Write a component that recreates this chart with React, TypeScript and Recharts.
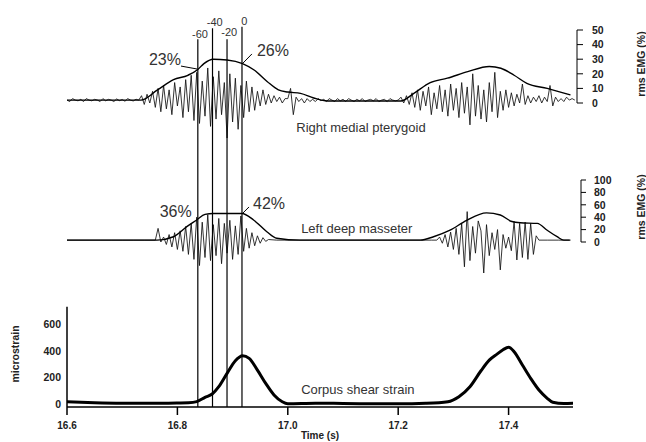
import { LineChart, Line, XAxis, YAxis, ReferenceLine, ReferenceDot } from "recharts";

// time axis shared by the three panels
const T_MIN = 16.6;
const TIME_TICKS = [16.6, 16.8, 17.0, 17.2, 17.4];

// timing markers (ms relative to strain peak)
const MARK_NAMES = ["-60", "-40", "-20", "0"];
const MARK_T = [16.837, 16.8636, 16.8899, 16.917];
const MARK_TOP = [43.6, 51.2, 43.6, 52.3];
const MARK_LABEL_Y = [47.3, 55.5, 48.4, 56.2];

// right medial pterygoid, rms envelope (% max)
const TOP_ENV_T = [16.6, 16.7, 16.734, 16.764, 16.793, 16.819, 16.837, 16.848, 16.865, 16.89, 16.918, 16.939, 16.963, 16.983, 17.0, 17.023, 17.047, 17.072, 17.15, 17.205, 17.229, 17.258, 17.289, 17.326, 17.365, 17.386, 17.41, 17.433, 17.47, 17.512];
const TOP_ENV_V = [2, 2, 2, 9, 16, 19, 23, 27, 30, 29.5, 27, 22.6, 14.6, 9, 7.5, 6.6, 3.4, 1.4, 1.4, 1.4, 6.8, 14, 17, 21.5, 25, 23.8, 19, 13.5, 10, 5.5];

// right medial pterygoid, raw emg (sampled every 5 ms)
const RAW_STEP = 0.005;
const TOP_QUIET_A = [2, 1, 3, 2, 1.5, 2.5, 1, 3, 2, 1.5, 2.5, 2, 1, 3, 1.5, 2.5, 2, 1, 2.8, 1.6, 2.4, 1.2, 3, 2, 1.4, 2.6];
const TOP_BURST_A = [2, 5, -1, 6, 0, 8, -3, 10, -6, 12, -4, 9, -8, 14, -2, 11, -10, 16, -6, 19, -12, 21, -14, 15, -9, 24, -16, 18, -11, 22, -8, 14, -24, 20, -13, 17, -18, 12, -10, 15, -6, 11, -5, 8, -2, 9, -1, 6, 0, 5, 1, 4, 0, 3];
const TOP_QUIET_B = [3, 10, -8, 4, 1, 3, 0, 3, 1, 2.5, 1, 3, 1.5, 2.5, 1, 3, 2, 1, 3, 1.5, 2.5, 1, 3, 2, 1, 2.5, 1.5, 3, 1, 2, 2.5, 1.5, 3, 1, 2, 2.5, 1, 3, 2, 1.5];
const TOP_BURST_B = [2, 4, 0, 5, -1, 7, -3, 9, -5, 8, -2, 11, -8, 7, -4, 12, -6, 9, -9, 13, -5, 10, -10, 14, -7, 11, -15, 20, -9, 12, -11, 9, -13, 14, -6, 21, -10, 8, -5, 9, -3, 7, -2, 6, 0, 13, -1, 5, 0, 4, 1, 5, 0, 4, 1, 12, -2, 4, 1, 3, 1, 4, 2, 3, 2];

// left deep masseter, rms envelope (% max)
const MID_ENV_T = [16.6, 16.763, 16.793, 16.817, 16.835, 16.85, 16.865, 16.89, 16.917, 16.938, 16.962, 16.98, 17.022, 17.24, 17.264, 17.294, 17.324, 17.36, 17.385, 17.406, 17.421, 17.452, 17.47, 17.488, 17.5, 17.512];
const MID_ENV_V = [3, 3, 8.5, 24.7, 35.5, 44.6, 46, 46, 46, 35.5, 16.6, 6, 3, 3, 8.5, 19, 35, 47, 43.5, 33, 31, 30, 19, 8.5, 3, 3];

// left deep masseter, raw emg
const QUIET_STEP = 0.02;
const MID_QUIET_A = [3, 3, 3, 3, 3, 3, 3, 3];
const MID_BURST_A = [3, 22, 0, 8, -4, 12, -8, 15, -12, 18, -15, 25, -20, 30, -28, 40, -38, 32, -25, 44, -30, 28, -22, 38, -35, 30, -18, 35, -28, 26, -20, 42, -15, 22, -10, 15, -6, 10, -2, 7, 1, 4];
const MID_QUIET_B = [3, 3, 3, 3, 3, 3, 3, 3, 3, 3, 3, 3, 3, 3, 3];
const MID_BURST_B = [3, 8, -2, 12, -8, 16, -12, 22, -20, 30, -40, 49, -30, 25, -18, 34, 18, -50, 28, -22, 15, -12, 20, -45, 12, -10, 8, -14, 33, -29, 30, -25, 32, -28, 30, -20, 10, 3];
const MID_QUIET_C = [3, 3, 3];

// corpus shear strain (microstrain)
const STRAIN_T = [16.6, 16.65, 16.7, 16.75, 16.8, 16.82, 16.835, 16.85, 16.863, 16.875, 16.89, 16.905, 16.918, 16.93, 16.945, 16.96, 16.975, 16.99, 17.0, 17.05, 17.1, 17.15, 17.2, 17.25, 17.29, 17.31, 17.33, 17.35, 17.365, 17.379, 17.39, 17.4, 17.41, 17.425, 17.44, 17.455, 17.47, 17.48, 17.5, 17.517];
const STRAIN_V = [17, 10, 6, 5, 8, 10, 18, 50, 75, 130, 230, 325, 363, 343, 255, 155, 68, 17, 2, 6, 4, 2, 1, 5, 17, 55, 130, 250, 330, 375, 408, 426, 393, 293, 193, 105, 43, 13, 3, 6];

const pairs = (ts: number[], vs: number[]) => ts.map((t, i) => ({ t, v: vs[i] }));
const segments = (parts: [number, number, number[]][]) =>
  parts.flatMap(([start, step, vals]) => vals.map((v, i) => ({ t: start + i * step, v })));

const topEnv = pairs(TOP_ENV_T, TOP_ENV_V);
const topRaw = segments([
  [16.6, RAW_STEP, TOP_QUIET_A],
  [16.73, RAW_STEP, TOP_BURST_A],
  [17.0, RAW_STEP, TOP_QUIET_B],
  [17.2, RAW_STEP, TOP_BURST_B],
]);
const midEnv = pairs(MID_ENV_T, MID_ENV_V);
const midRaw = segments([
  [16.6, QUIET_STEP, MID_QUIET_A],
  [16.76, RAW_STEP, MID_BURST_A],
  [16.98, QUIET_STEP, MID_QUIET_B],
  [17.27, RAW_STEP, MID_BURST_B],
  [17.47, QUIET_STEP, MID_QUIET_C],
]);
const strain = pairs(STRAIN_T, STRAIN_V);

const TOP_DOMAIN: [number, number] = [-32.19, 70.55];
const MID_DOMAIN: [number, number] = [-77.42, 148.39];
const BOT_DOMAIN: [number, number] = [-22.56, 857.1];
const TOP_XMAX = 17.5239;
const MID_XMAX = 17.5312;
const BOT_XMAX = 17.5167;

const ink = "#000";
const textInk = "#333";
const axisTick = { fill: "#222", fontSize: 10.5, fontWeight: 700 };

const sideTitle = (text: string, x: number, y: number) => ({
  content: () => (
    <text
      transform={`translate(${x},${y}) rotate(-90)`}
      textAnchor="middle"
      dominantBaseline="central"
      fontSize={10.5}
      fontWeight={700}
      fill="#222"
    >
      {text}
    </text>
  ),
});

const note = (key: string, x: number, y: number, value: string, size: number) => (
  <ReferenceDot
    key={key}
    x={x}
    y={y}
    r={0}
    fill="none"
    stroke="none"
    ifOverflow="visible"
    label={{ value, position: "center", fill: textInk, fontSize: size }}
  />
);

export default function App() {
  return (
    <div
      style={{
        position: "absolute",
        left: 0,
        top: 0,
        width: 646,
        height: 442,
        background: "#fff",
        fontFamily: 'Arial, "Liberation Sans", sans-serif',
      }}
    >
      {/* right medial pterygoid */}
      <div style={{ position: "absolute", left: 0, top: 0 }}>
        <LineChart width={646} height={150} margin={{ top: 0, right: 0, bottom: 0, left: 67 }}>
          <XAxis type="number" dataKey="t" domain={[T_MIN, TOP_XMAX]} allowDataOverflow hide />
          <YAxis
            orientation="right"
            width={69}
            domain={TOP_DOMAIN}
            allowDataOverflow
            ticks={[0, 10, 20, 30, 40, 50]}
            interval={0}
            axisLine={false}
            tickSize={6}
            tickMargin={9}
            tickLine={{ stroke: ink }}
            tick={axisTick}
            label={sideTitle("rms EMG (%)", 641, 64)}
          />
          <ReferenceLine segment={[{ x: TOP_XMAX, y: 0 }, { x: TOP_XMAX, y: 50 }]} stroke={ink} ifOverflow="visible" />
          <Line data={topRaw} dataKey="v" type="linear" stroke="#111" strokeWidth={0.85} dot={false} isAnimationActive={false} />
          <Line data={topEnv} dataKey="v" type="monotone" stroke={ink} strokeWidth={1.4} dot={false} isAnimationActive={false} />
          {MARK_T.map((t, i) => (
            <ReferenceLine
              key={"m" + i}
              segment={[{ x: t, y: TOP_DOMAIN[0] }, { x: t, y: MARK_TOP[i] }]}
              stroke={ink}
              strokeWidth={1.2}
              ifOverflow="visible"
            />
          ))}
          {MARK_T.map((t, i) => note("ml" + i, t + 0.004, MARK_LABEL_Y[i], MARK_NAMES[i], 11))}
          <ReferenceLine segment={[{ x: 16.8065, y: 25.3 }, { x: 16.8355, y: 23.3 }]} stroke={ink} ifOverflow="visible" />
          <ReferenceLine segment={[{ x: 16.935, y: 33.6 }, { x: 16.919, y: 27.4 }]} stroke={ink} ifOverflow="visible" />
          {note("p23", 16.7775, 30.1, "23%", 16)}
          {note("p26", 16.973, 36.3, "26%", 16)}
          {note("rmp", 17.1326, -16.4, "Right medial pterygoid", 13)}
        </LineChart>
      </div>

      {/* left deep masseter */}
      <div style={{ position: "absolute", left: 0, top: 150 }}>
        <LineChart width={646} height={140} margin={{ top: 0, right: 0, bottom: 0, left: 67 }}>
          <XAxis type="number" dataKey="t" domain={[T_MIN, MID_XMAX]} allowDataOverflow hide />
          <YAxis
            orientation="right"
            width={65}
            domain={MID_DOMAIN}
            allowDataOverflow
            ticks={[0, 20, 40, 60, 80, 100]}
            interval={0}
            axisLine={false}
            tickSize={5}
            tickMargin={8}
            tickLine={{ stroke: ink }}
            tick={axisTick}
            label={sideTitle("rms EMG (%)", 641, 57)}
          />
          <ReferenceLine segment={[{ x: MID_XMAX, y: 0 }, { x: MID_XMAX, y: 100 }]} stroke={ink} ifOverflow="visible" />
          <Line data={midRaw} dataKey="v" type="linear" stroke="#111" strokeWidth={0.85} dot={false} isAnimationActive={false} />
          <Line data={midEnv} dataKey="v" type="monotone" stroke={ink} strokeWidth={1.4} dot={false} isAnimationActive={false} />
          {MARK_T.map((t, i) => (
            <ReferenceLine key={"m" + i} x={t} stroke={ink} strokeWidth={1.2} ifOverflow="visible" />
          ))}
          <ReferenceLine segment={[{ x: 16.9297, y: 56.5 }, { x: 16.9188, y: 46.8 }]} stroke={ink} ifOverflow="visible" />
          {note("p36", 16.797, 48.9, "36%", 16)}
          {note("p42", 16.966, 62.9, "42%", 16)}
          {note("ldm", 17.125, 22.6, "Left deep masseter", 13)}
        </LineChart>
      </div>

      {/* corpus shear strain */}
      <div style={{ position: "absolute", left: 0, top: 290 }}>
        <LineChart width={646} height={152} margin={{ top: 0, right: 73, bottom: 0, left: 0 }}>
          <XAxis
            type="number"
            dataKey="t"
            domain={[T_MIN, BOT_XMAX]}
            allowDataOverflow
            ticks={TIME_TICKS}
            interval={0}
            height={35}
            tickSize={8}
            tickMargin={7}
            axisLine={{ stroke: ink, strokeWidth: 1.5 }}
            tickLine={{ stroke: ink, strokeWidth: 1.5 }}
            tick={{ fill: "#222", fontSize: 10, fontWeight: 700 }}
            tickFormatter={(v: number) => v.toFixed(1)}
            label={{ value: "Time (s)", position: "insideBottom", offset: 3, fill: "#222", fontSize: 10, fontWeight: 700 }}
          />
          <YAxis
            width={67}
            domain={BOT_DOMAIN}
            allowDataOverflow
            ticks={[0, 200, 400, 600]}
            interval={0}
            axisLine={false}
            tickLine={false}
            tickSize={4}
            tickMargin={2}
            tick={axisTick}
            label={sideTitle("microstrain", 15, 64)}
          />
          <ReferenceLine segment={[{ x: T_MIN, y: BOT_DOMAIN[0] }, { x: T_MIN, y: 732 }]} stroke={ink} strokeWidth={1.5} ifOverflow="visible" />
          {MARK_T.map((t, i) => (
            <ReferenceLine key={"m" + i} x={t} stroke={ink} strokeWidth={1.2} ifOverflow="visible" />
          ))}
          <Line data={strain} dataKey="v" type="monotone" stroke={ink} strokeWidth={3} dot={false} isAnimationActive={false} />
          {note("css", 17.127, 112.8, "Corpus shear strain", 13)}
        </LineChart>
      </div>
    </div>
  );
}
